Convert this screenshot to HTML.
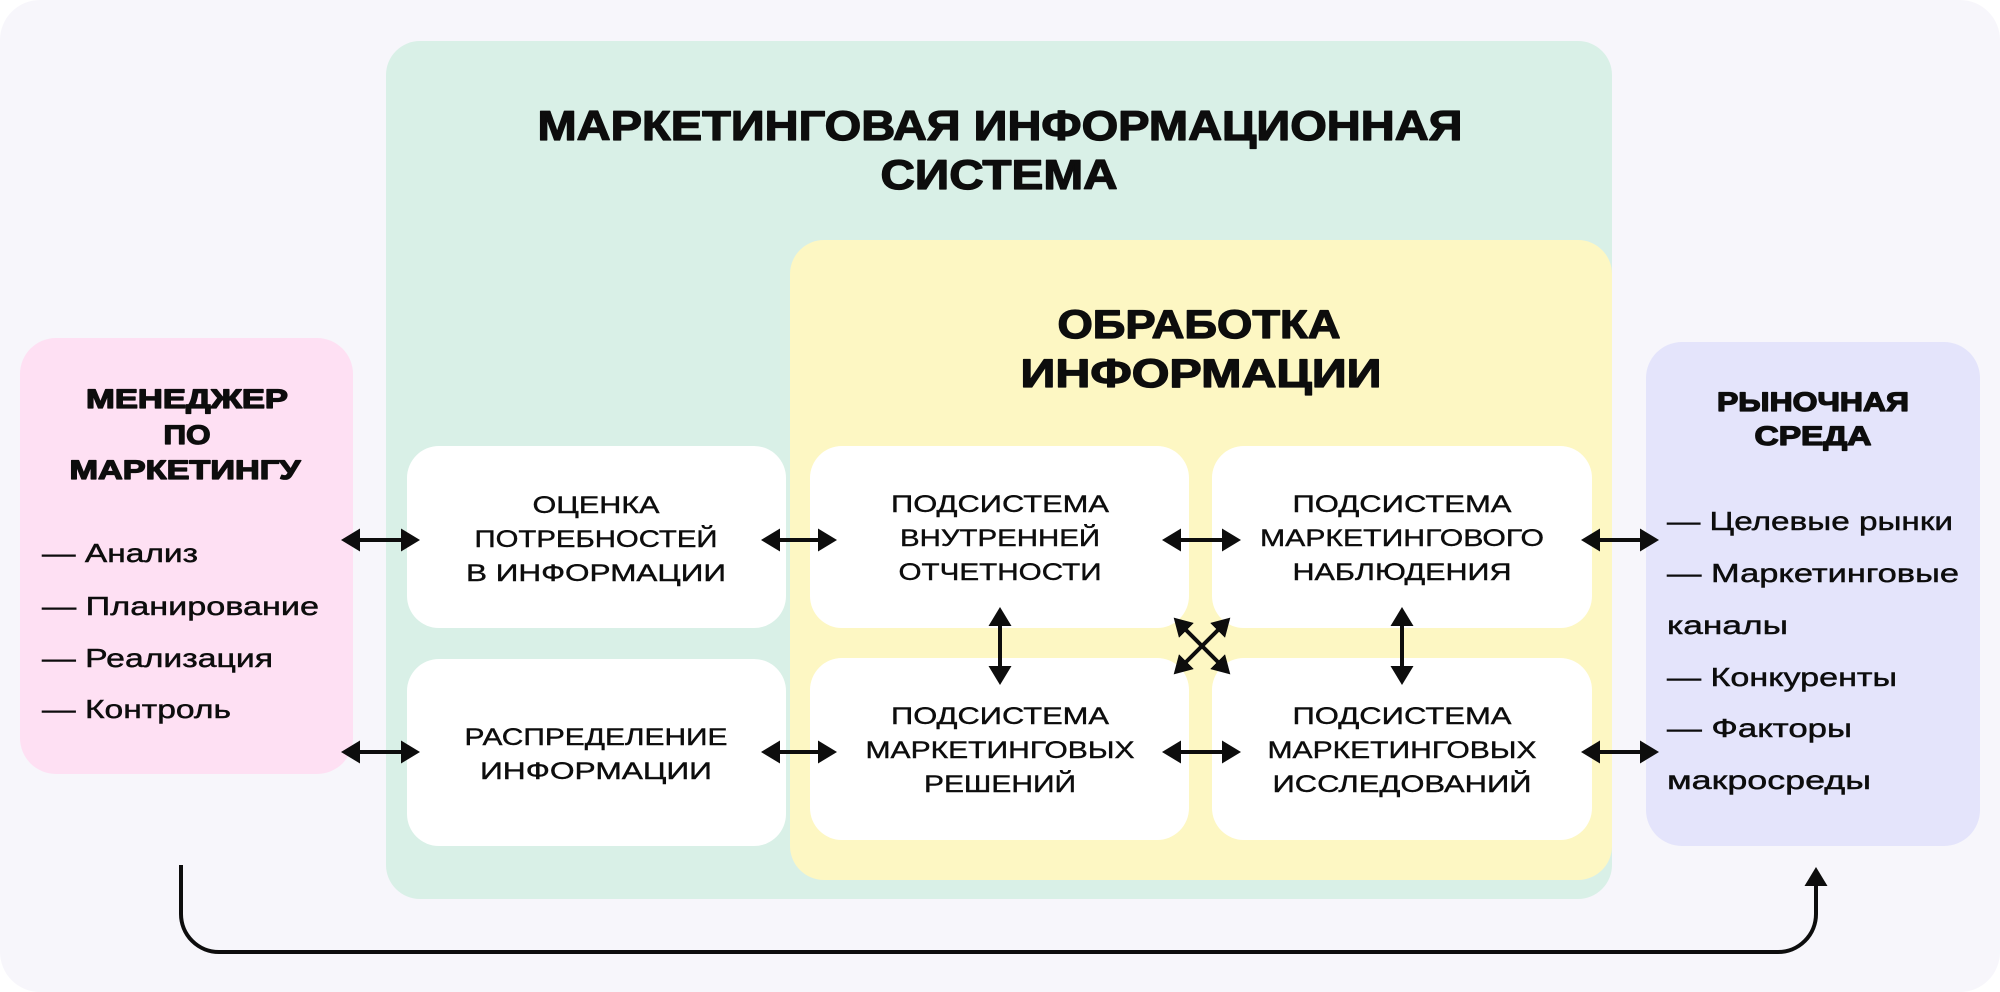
<!DOCTYPE html>
<html>
<head>
<meta charset="utf-8">
<style>
  html,body{margin:0;padding:0;background:#ffffff;}
  body{width:2000px;height:992px;overflow:hidden;}
  svg{display:block;}
  .t{font-family:"Liberation Sans","DejaVu Sans",sans-serif;fill:#0d0d0d;}
  .h{font-weight:bold;stroke:#0d0d0d;stroke-width:1.3px;stroke-linejoin:round;}
  .box{font-size:24px;stroke:#0d0d0d;stroke-width:0.4px;}
  .li{font-size:26px;stroke:#0d0d0d;stroke-width:0.45px;}
</style>
</head>
<body>
<svg width="2000" height="992" viewBox="0 0 2000 992" xmlns="http://www.w3.org/2000/svg">
  <defs>
    <marker id="ah" viewBox="0 -11.5 19 23" refX="2" refY="0" markerWidth="19" markerHeight="23" markerUnits="userSpaceOnUse" orient="auto-start-reverse">
      <path d="M0,-11.5 L19,0 L0,11.5 z" fill="#0d0d0d"/>
    </marker>
    <marker id="ahs" viewBox="0 -10.5 18 21" refX="2" refY="0" markerWidth="18" markerHeight="21" markerUnits="userSpaceOnUse" orient="auto-start-reverse">
      <path d="M0,-10.5 L18,0 L0,10.5 z" fill="#0d0d0d"/>
    </marker>
  </defs>

  <!-- outer background -->
  <rect x="0" y="0" width="2000" height="992" rx="40" ry="40" fill="#f7f6fb"/>

  <!-- green panel -->
  <rect x="386" y="41" width="1226" height="858" rx="34" ry="34" fill="#d9f0e7"/>
  <!-- yellow panel -->
  <rect x="790" y="240" width="822" height="640" rx="34" ry="34" fill="#fdf7c3"/>
  <!-- pink -->
  <rect x="20" y="338" width="333" height="436" rx="36" ry="36" fill="#fee0f3"/>
  <!-- purple -->
  <rect x="1646" y="342" width="334" height="504" rx="36" ry="36" fill="#e4e4fb"/>

  <!-- white boxes -->
  <rect x="407" y="446" width="379" height="182" rx="32" ry="32" fill="#ffffff"/>
  <rect x="407" y="659" width="379" height="187" rx="32" ry="32" fill="#ffffff"/>
  <rect x="810" y="446" width="379" height="182" rx="32" ry="32" fill="#ffffff"/>
  <rect x="1212" y="446" width="380" height="182" rx="32" ry="32" fill="#ffffff"/>
  <rect x="810" y="658" width="379" height="182" rx="32" ry="32" fill="#ffffff"/>
  <rect x="1212" y="658" width="380" height="182" rx="32" ry="32" fill="#ffffff"/>

  <!-- main title -->
  <text class="t h" x="1000" y="140" font-size="42" text-anchor="middle" textLength="925" lengthAdjust="spacingAndGlyphs">МАРКЕТИНГОВАЯ ИНФОРМАЦИОННАЯ</text>
  <text class="t h" x="999" y="189" font-size="42" text-anchor="middle" textLength="237" lengthAdjust="spacingAndGlyphs">СИСТЕМА</text>

  <!-- yellow title -->
  <text class="t h" x="1199" y="338" font-size="40" text-anchor="middle" textLength="283" lengthAdjust="spacingAndGlyphs">ОБРАБОТКА</text>
  <text class="t h" x="1201" y="387" font-size="40" text-anchor="middle" textLength="361" lengthAdjust="spacingAndGlyphs">ИНФОРМАЦИИ</text>

  <!-- pink title -->
  <text class="t h" x="187" y="408" font-size="27" text-anchor="middle" textLength="202" lengthAdjust="spacingAndGlyphs">МЕНЕДЖЕР</text>
  <text class="t h" x="187" y="444" font-size="27" text-anchor="middle" textLength="47" lengthAdjust="spacingAndGlyphs">ПО</text>
  <text class="t h" x="185" y="479" font-size="27" text-anchor="middle" textLength="231" lengthAdjust="spacingAndGlyphs">МАРКЕТИНГУ</text>

  <!-- pink list -->
  <text class="t li" x="42" y="562" textLength="156" lengthAdjust="spacingAndGlyphs">— Анализ</text>
  <text class="t li" x="42" y="615" textLength="277" lengthAdjust="spacingAndGlyphs">— Планирование</text>
  <text class="t li" x="42" y="667" textLength="231" lengthAdjust="spacingAndGlyphs">— Реализация</text>
  <text class="t li" x="42" y="718" textLength="189" lengthAdjust="spacingAndGlyphs">— Контроль</text>

  <!-- purple title -->
  <text class="t h" x="1813" y="411" font-size="26.5" text-anchor="middle" textLength="192" lengthAdjust="spacingAndGlyphs">РЫНОЧНАЯ</text>
  <text class="t h" x="1813" y="445" font-size="26.5" text-anchor="middle" textLength="117" lengthAdjust="spacingAndGlyphs">СРЕДА</text>

  <!-- purple list -->
  <text class="t li" x="1667" y="530" textLength="286" lengthAdjust="spacingAndGlyphs">— Целевые рынки</text>
  <text class="t li" x="1667" y="582" textLength="292" lengthAdjust="spacingAndGlyphs">— Маркетинговые</text>
  <text class="t li" x="1667" y="634" textLength="121" lengthAdjust="spacingAndGlyphs">каналы</text>
  <text class="t li" x="1667" y="686" textLength="230" lengthAdjust="spacingAndGlyphs">— Конкуренты</text>
  <text class="t li" x="1667" y="737" textLength="185" lengthAdjust="spacingAndGlyphs">— Факторы</text>
  <text class="t li" x="1667" y="789" textLength="204" lengthAdjust="spacingAndGlyphs">макросреды</text>

  <!-- box: Оценка -->
  <text class="t box" x="596" y="513" text-anchor="middle" textLength="127" lengthAdjust="spacingAndGlyphs">ОЦЕНКА</text>
  <text class="t box" x="596" y="547" text-anchor="middle" textLength="243" lengthAdjust="spacingAndGlyphs">ПОТРЕБНОСТЕЙ</text>
  <text class="t box" x="596" y="581" text-anchor="middle" textLength="260" lengthAdjust="spacingAndGlyphs">В ИНФОРМАЦИИ</text>

  <!-- box: Распределение -->
  <text class="t box" x="596" y="745" text-anchor="middle" textLength="263" lengthAdjust="spacingAndGlyphs">РАСПРЕДЕЛЕНИЕ</text>
  <text class="t box" x="596" y="779" text-anchor="middle" textLength="232" lengthAdjust="spacingAndGlyphs">ИНФОРМАЦИИ</text>

  <!-- box: Внутренней -->
  <text class="t box" x="1000" y="512" text-anchor="middle" textLength="218" lengthAdjust="spacingAndGlyphs">ПОДСИСТЕМА</text>
  <text class="t box" x="1000" y="546" text-anchor="middle" textLength="200" lengthAdjust="spacingAndGlyphs">ВНУТРЕННЕЙ</text>
  <text class="t box" x="1000" y="580" text-anchor="middle" textLength="203" lengthAdjust="spacingAndGlyphs">ОТЧЕТНОСТИ</text>

  <!-- box: Наблюдения -->
  <text class="t box" x="1402" y="512" text-anchor="middle" textLength="219" lengthAdjust="spacingAndGlyphs">ПОДСИСТЕМА</text>
  <text class="t box" x="1402" y="546" text-anchor="middle" textLength="284" lengthAdjust="spacingAndGlyphs">МАРКЕТИНГОВОГО</text>
  <text class="t box" x="1402" y="580" text-anchor="middle" textLength="219" lengthAdjust="spacingAndGlyphs">НАБЛЮДЕНИЯ</text>

  <!-- box: Решений -->
  <text class="t box" x="1000" y="724" text-anchor="middle" textLength="218" lengthAdjust="spacingAndGlyphs">ПОДСИСТЕМА</text>
  <text class="t box" x="1000" y="758" text-anchor="middle" textLength="269" lengthAdjust="spacingAndGlyphs">МАРКЕТИНГОВЫХ</text>
  <text class="t box" x="1000" y="792" text-anchor="middle" textLength="152" lengthAdjust="spacingAndGlyphs">РЕШЕНИЙ</text>

  <!-- box: Исследований -->
  <text class="t box" x="1402" y="724" text-anchor="middle" textLength="219" lengthAdjust="spacingAndGlyphs">ПОДСИСТЕМА</text>
  <text class="t box" x="1402" y="758" text-anchor="middle" textLength="269" lengthAdjust="spacingAndGlyphs">МАРКЕТИНГОВЫХ</text>
  <text class="t box" x="1402" y="792" text-anchor="middle" textLength="259" lengthAdjust="spacingAndGlyphs">ИССЛЕДОВАНИЙ</text>

  <!-- arrows -->
  <g stroke="#0d0d0d" stroke-width="4" fill="none" marker-start="url(#ah)" marker-end="url(#ah)">
    <line x1="358" y1="540" x2="403" y2="540"/>
    <line x1="778" y1="540" x2="820" y2="540"/>
    <line x1="1179" y1="540" x2="1224" y2="540"/>
    <line x1="1598" y1="540" x2="1642" y2="540"/>

    <line x1="358" y1="752" x2="403" y2="752"/>
    <line x1="778" y1="752" x2="820" y2="752"/>
    <line x1="1179" y1="752" x2="1224" y2="752"/>
    <line x1="1598" y1="752" x2="1642" y2="752"/>

    <line x1="1000" y1="624" x2="1000" y2="668"/>
    <line x1="1402" y1="624" x2="1402" y2="668"/>
  </g>
  <g stroke="#0d0d0d" stroke-width="4" fill="none" marker-start="url(#ahs)" marker-end="url(#ahs)">
    <line x1="1185" y1="629" x2="1219" y2="663"/>
    <line x1="1219" y1="629" x2="1185" y2="663"/>
  </g>

  <!-- bottom connector -->
  <path d="M181,865 V914 A38,38 0 0 0 219,952 H1778 A38,38 0 0 0 1816,914 V884" stroke="#0d0d0d" stroke-width="4" fill="none" marker-end="url(#ah)"/>
</svg>
</body>
</html>
